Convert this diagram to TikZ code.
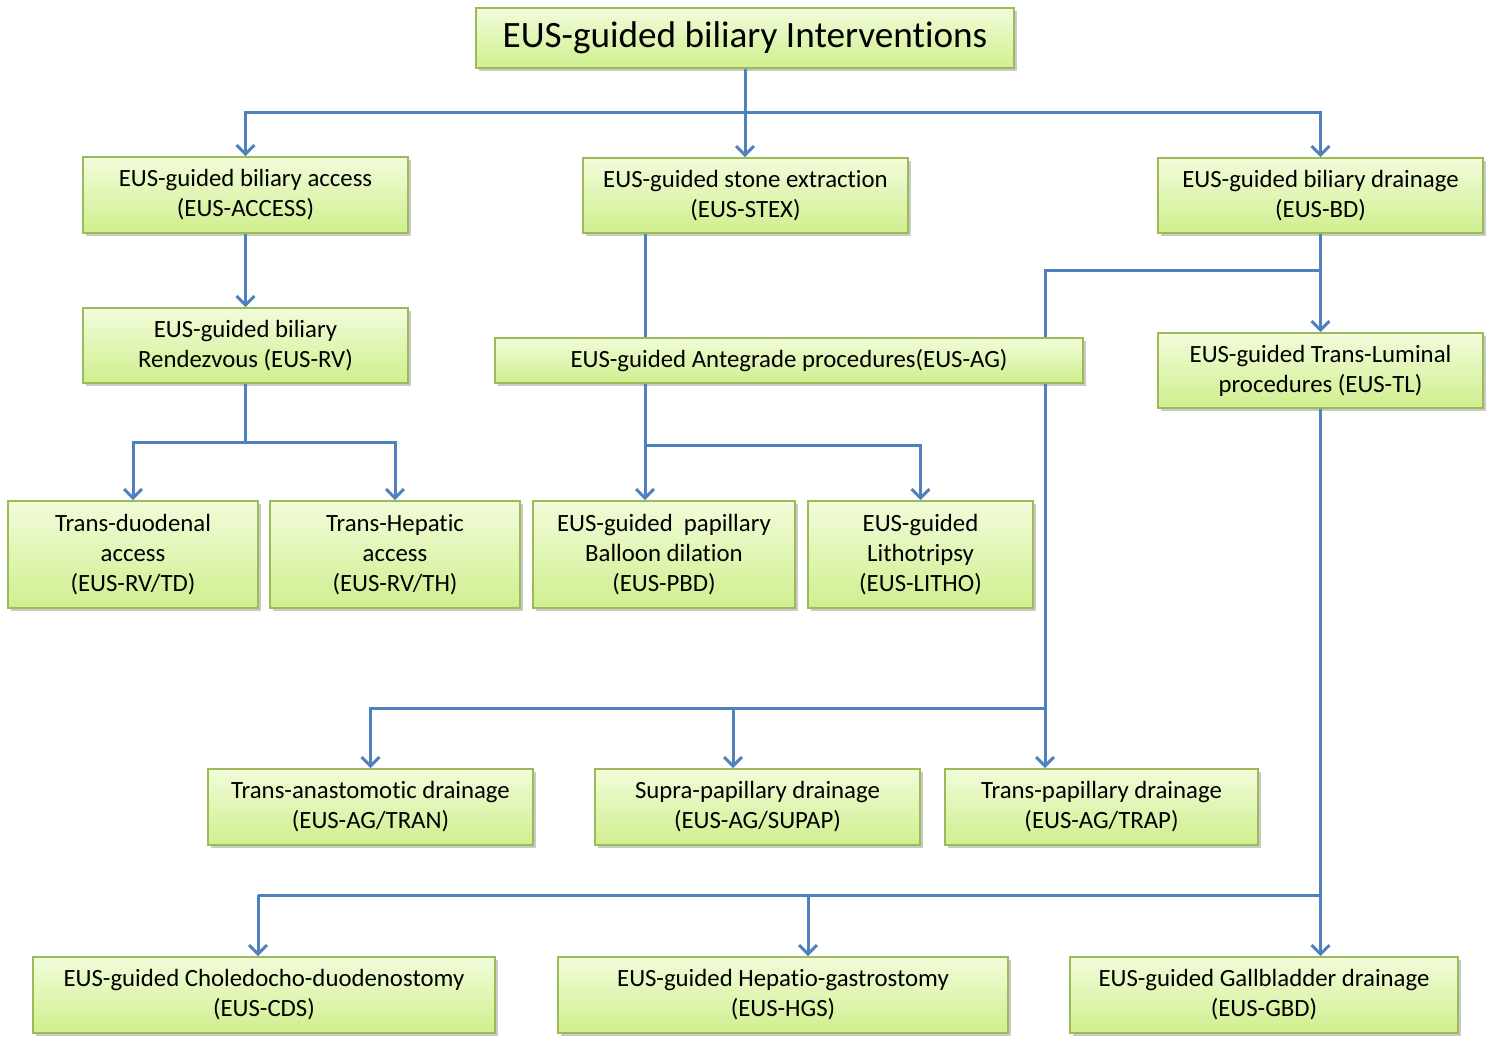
\documentclass[tikz,border=0pt]{standalone}
\usepackage{fontspec}
\setmainfont{Carlito}[Ligatures=NoCommon]
\usetikzlibrary{arrows.meta, shadows}

\definecolor{boxtop}{RGB}{242,252,218}
\definecolor{boxbottom}{RGB}{207,239,142}
\definecolor{boxline}{RGB}{155,187,89}
\definecolor{linkblue}{RGB}{79,129,189}

\begin{document}
\begin{tikzpicture}[
    x=0.5pt, y=-0.5pt,
    font=\fontsize{12.4pt}{15pt}\selectfont,
    >={Straight Barb[length=4.5pt, width=9pt]},
    boxstyle/.style={draw=boxline, line width=0.8pt, top color=boxtop, bottom color=boxbottom,
        text=black, align=center, inner sep=2pt,
        drop shadow={shadow xshift=1.6pt, shadow yshift=-1.6pt, opacity=0.35, fill=black!60}},
    titlestyle/.style={boxstyle, font=\fontsize{18.6pt}{20pt}\selectfont},
    link/.style={draw=linkblue, line width=1.5pt},
    flow/.style={link, ->}
  ]
    \useasboundingbox (0,0) rectangle (1491,1050);
    % first level
    \node[titlestyle, minimum width=269pt, minimum height=30pt] (top) at (745,38) {EUS-guided biliary Interventions};
    \node[boxstyle, minimum width=162.5pt, minimum height=38pt] (access) at (245.5,195) {EUS-guided biliary access\\(EUS-ACCESS)};
    \node[boxstyle, minimum width=162.5pt, minimum height=37.5pt] (stex) at (745.5,195.5) {EUS-guided stone extraction\\(EUS-STEX)};
    \node[boxstyle, minimum width=162.5pt, minimum height=37.5pt] (bd) at (1320.5,195.5) {EUS-guided biliary drainage\\(EUS-BD)};
    % second level
    \node[boxstyle, minimum width=162.5pt, minimum height=37.5pt] (rv) at (245.5,345.5) {EUS-guided biliary\\Rendezvous (EUS-RV)};
    \node[boxstyle, minimum width=294pt, minimum height=22.5pt] (ag) at (789,360.5) {EUS-guided Antegrade procedures(EUS-AG)};
    \node[boxstyle, minimum width=162.5pt, minimum height=37.5pt] (tl) at (1320.5,370.5) {EUS-guided Trans-Luminal\\procedures (EUS-TL)};
    % third level
    \node[boxstyle, minimum width=125pt, minimum height=53.5pt] (td) at (133,554.5) {Trans-duodenal\\access\\(EUS-RV/TD)};
    \node[boxstyle, minimum width=125pt, minimum height=53.5pt] (th) at (395,554.5) {Trans-Hepatic\\access\\(EUS-RV/TH)};
    \node[boxstyle, minimum width=131pt, minimum height=53.5pt] (pbd) at (664,554.5) {EUS-guided\ \ papillary\\Balloon dilation\\(EUS-PBD)};
    \node[boxstyle, minimum width=112.5pt, minimum height=53.5pt] (litho) at (920.5,554.5) {EUS-guided\\Lithotripsy\\(EUS-LITHO)};
    % drainage routes
    \node[boxstyle, minimum width=162.5pt, minimum height=38pt] (tran) at (370.5,807) {Trans-anastomotic drainage\\(EUS-AG/TRAN)};
    \node[boxstyle, minimum width=162.5pt, minimum height=38pt] (supap) at (757.5,807) {Supra-papillary drainage\\(EUS-AG/SUPAP)};
    \node[boxstyle, minimum width=156.5pt, minimum height=38pt] (trap) at (1101.5,807) {Trans-papillary drainage\\(EUS-AG/TRAP)};
    % trans-luminal routes
    \node[boxstyle, minimum width=231pt, minimum height=38pt] (cds) at (264,995) {EUS-guided Choledocho-duodenostomy\\(EUS-CDS)};
    \node[boxstyle, minimum width=225pt, minimum height=38pt] (hgs) at (783,995) {EUS-guided Hepatio-gastrostomy\\(EUS-HGS)};
    \node[boxstyle, minimum width=194pt, minimum height=38pt] (gbd) at (1264,995) {EUS-guided Gallbladder drainage\\(EUS-GBD)};

    % top split
    \coordinate (topbus) at (745,112);
    \draw[link] (top.south) -- (topbus);
    \draw[flow] (topbus) -| (access.north);
    \draw[flow] (topbus) -- (topbus |- stex.north);
    \draw[flow] (topbus) -| (bd.north);
    % rendezvous branch
    \draw[flow] (access.south) -- (rv.north);
    \coordinate (rvbus) at (245.5,442);
    \draw[link] (rv.south) -- (rvbus);
    \draw[flow] (rvbus) -| (td.north);
    \draw[flow] (rvbus) -| (th.north);
    % antegrade branch
    \coordinate (stexjoin) at (645,0);
    \draw[link] (stexjoin |- stex.south) -- (stexjoin |- ag.north);
    \coordinate (agbus) at (645,445);
    \draw[link] (agbus |- ag.south) -- (agbus);
    \draw[flow] (agbus) -- (agbus |- pbd.north);
    \draw[flow] (agbus) -| (litho.north);
    % drainage split
    \coordinate (bdbus) at (1320.5,270);
    \coordinate (agjoin) at (1045,270);
    \draw[flow] (bd.south) -- (tl.north);
    \draw[link] (bdbus) -- (agjoin) -- (agjoin |- ag.north);
    \coordinate (drainbus) at (1045,708);
    \draw[link] (agjoin |- ag.south) -- (drainbus);
    \draw[flow] (drainbus) -- (drainbus |- trap.north);
    \draw[flow] (drainbus) -| (tran.north);
    \coordinate (supapin) at (733,708);
    \draw[flow] (supapin) -- (supapin |- supap.north);
    % trans-luminal split
    \coordinate (tlbus) at (1320.5,895);
    \coordinate (cdsin) at (258,895);
    \coordinate (hgsin) at (808,895);
    \draw[link] (tl.south) -- (tlbus) -- (cdsin);
    \draw[flow] (tlbus) -- (tlbus |- gbd.north);
    \draw[flow] (cdsin) -- (cdsin |- cds.north);
    \draw[flow] (hgsin) -- (hgsin |- hgs.north);
\end{tikzpicture}
\end{document}
